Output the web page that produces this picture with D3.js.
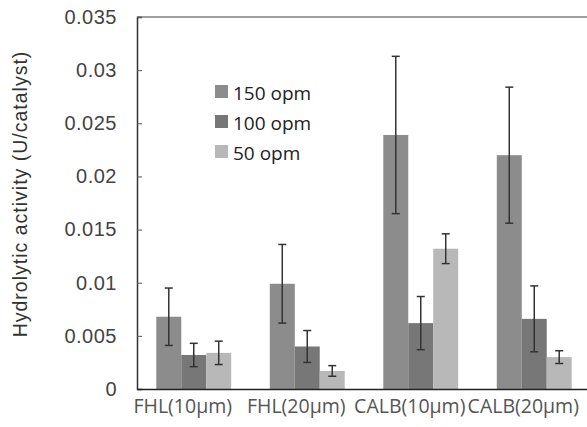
<!DOCTYPE html>
<html>
<head>
<meta charset="utf-8">
<script src="https://cdn.jsdelivr.net/npm/d3@7"></script>
<style>
  body { margin: 0; background: #fff; }
  svg { display: block; }
</style>
</head>
<body>
<svg id="chart" width="587" height="427"></svg>
<script>
const categories = ['FHL(10\u03bcm)', 'FHL(20\u03bcm)', 'CALB(10\u03bcm)', 'CALB(20\u03bcm)'];
const seriesNames = ['150 opm', '100 opm', '50 opm'];
const values150 = [0.0068, 0.0099, 0.0239, 0.0220];
const values100 = [0.0032, 0.0040, 0.0062, 0.0066];
const values50 = [0.0034, 0.0017, 0.0132, 0.0030];
const errors150 = [0.0027, 0.0037, 0.0074, 0.0064];
const errors100 = [0.0011, 0.0015, 0.0025, 0.0031];
const errors50 = [0.0011, 0.0005, 0.0014, 0.0006];
const yTicks = [0, 0.005, 0.01, 0.015, 0.02, 0.025, 0.03, 0.035];

const colors = ['#8c8c8c', '#777777', '#b8b8b8'];
const allValues = [values150, values100, values50];
const allErrors = [errors150, errors100, errors50];

const margin = { top: 17, right: -4, bottom: 38, left: 137 };
const width = 587, height = 427;
const drawWidth = width - margin.left - margin.right;
const drawHeight = height - margin.top - margin.bottom;

const svg = d3.select('#chart');
const g = svg.append('g').attr('transform', `translate(${margin.left},${margin.top})`);

const x0 = d3.scaleBand().domain(categories).range([0, drawWidth]).paddingInner(0.34).paddingOuter(0.17);
const x1 = d3.scaleBand().domain(seriesNames).range([0, x0.bandwidth()]);
const y = d3.scaleLinear().domain([0, 0.035]).range([drawHeight, 0]);

const rows = categories.map((c, i) => ({
  category: c,
  bars: seriesNames.map((s, j) => ({ series: s, idx: j, value: allValues[j][i], err: allErrors[j][i] }))
}));

// top border
g.append('line')
  .attr('x1', 0).attr('x2', width)
  .attr('y1', 0).attr('y2', 0)
  .attr('stroke', '#808080').attr('stroke-width', 1.5);

const groups = g.selectAll('.grp').data(rows).enter().append('g')
  .attr('class', 'grp')
  .attr('transform', d => `translate(${x0(d.category)},0)`);

groups.selectAll('rect').data(d => d.bars).enter().append('rect')
  .attr('x', d => x1(d.series))
  .attr('y', d => y(d.value))
  .attr('width', x1.bandwidth())
  .attr('height', d => drawHeight - y(d.value))
  .attr('fill', d => colors[d.idx]);

const eb = groups.selectAll('.eb').data(d => d.bars).enter().append('g')
  .attr('class', 'eb')
  .attr('stroke', '#333').attr('stroke-width', 1.5);
const cx = d => x1(d.series) + x1.bandwidth() / 2;
eb.append('line').attr('x1', cx).attr('x2', cx)
  .attr('y1', d => y(d.value + d.err)).attr('y2', d => y(d.value - d.err));
eb.append('line').attr('x1', d => cx(d) - 4).attr('x2', d => cx(d) + 4)
  .attr('y1', d => y(d.value + d.err)).attr('y2', d => y(d.value + d.err));
eb.append('line').attr('x1', d => cx(d) - 4).attr('x2', d => cx(d) + 4)
  .attr('y1', d => y(d.value - d.err)).attr('y2', d => y(d.value - d.err));

// y axis, ticks pointing inward
const yAxis = g.append('g').call(
  d3.axisLeft(y).tickValues(yTicks).tickSize(-5).tickPadding(20)
    .tickFormat(d => d === 0 ? '0' : String(+d.toFixed(3)))
);
yAxis.select('.domain').attr('stroke', '#333').attr('stroke-width', 1.5);
yAxis.selectAll('.tick line').attr('stroke', '#555');
yAxis.selectAll('text')
  .attr('font-family', '"Liberation Sans", Arial, sans-serif')
  .attr('font-size', 20).attr('fill', '#444')
  .attr('letter-spacing', 0.5);

// x axis
const xAxis = g.append('g').attr('transform', `translate(0,${drawHeight})`)
  .call(d3.axisBottom(x0).tickSize(0).tickPadding(10));
xAxis.select('.domain').attr('stroke', '#222').attr('stroke-width', 1.5);
xAxis.selectAll('text')
  .attr('font-family', '"Open Sans", sans-serif')
  .attr('font-size', 19.5).attr('fill', '#555')
  .attr('dx', -11);

// y title
svg.append('text')
  .attr('transform', `translate(27,194) rotate(-90)`)
  .attr('text-anchor', 'middle')
  .attr('font-family', '"Liberation Sans", Arial, sans-serif')
  .attr('font-size', 19.5).attr('fill', '#333')
  .attr('letter-spacing', 1)
  .text('Hydrolytic activity (U/catalyst)');

// legend
const legend = svg.append('g').selectAll('g').data(seriesNames).enter().append('g')
  .attr('transform', (d, i) => `translate(215,${85 + i * 30})`);
legend.append('rect').attr('width', 13).attr('height', 13)
  .attr('fill', (d, i) => colors[i]);
legend.append('text').attr('x', 18).attr('y', 15)
  .attr('font-family', '"Open Sans", sans-serif')
  .attr('font-size', 19).attr('fill', '#222')
  .text(d => d);
</script>
</body>
</html>
